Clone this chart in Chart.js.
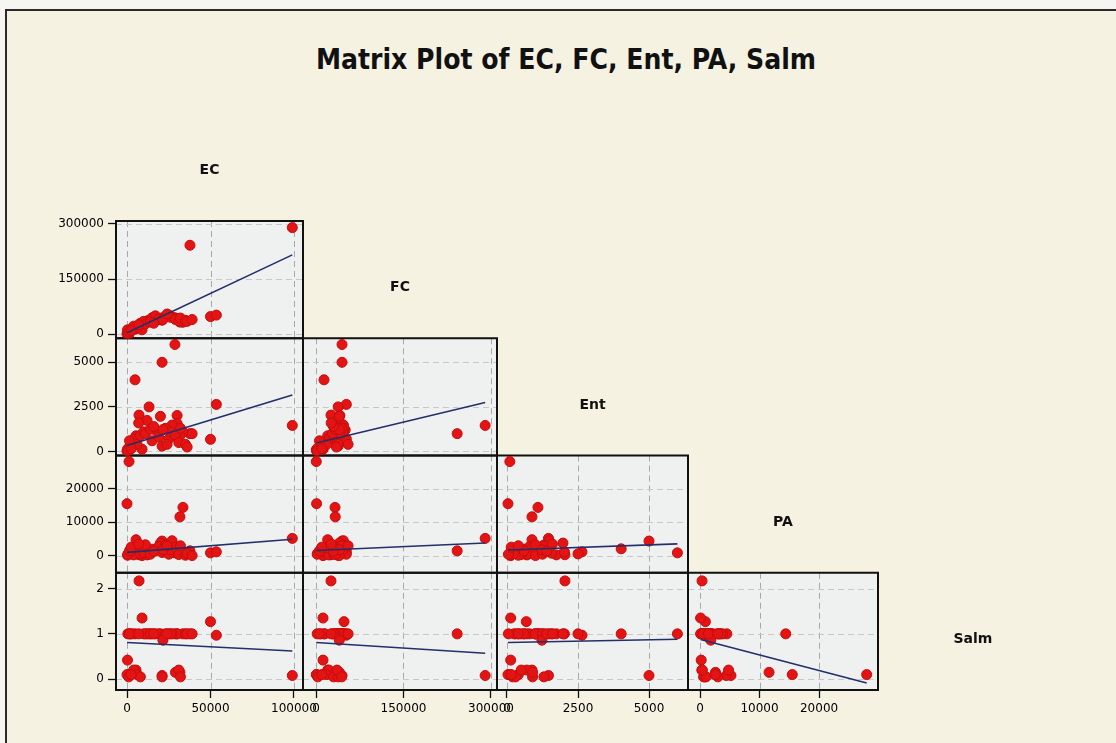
<!DOCTYPE html>
<html>
<head>
<meta charset="utf-8">
<title>Matrix Plot of EC, FC, Ent, PA, Salm</title>
<script src="https://cdn.jsdelivr.net/npm/chart.js@4.4.1/dist/chart.umd.min.js"></script>
<style>
  html, body { margin: 0; padding: 0; background: #f5f5f2; }
  #frame {
    position: absolute; left: 5px; top: 9px; width: 1111px; height: 734px;
    border-top: 2px solid #2a2a2a; border-left: 2px solid #2a2a2a; background: #f5f2e2;
  }
  #title {
    position: absolute; left: 8px; width: 1116px; top: 46px; text-align: center;
    font: bold 28px/28px 'Liberation Sans Narrow', 'DejaVu Sans Condensed', sans-serif; color: #111;
  }
  #wrap { position: absolute; left: 0; top: 0; width: 1116px; height: 743px; }
</style>
</head>
<body>
<div id="frame"></div>
<div id="title">Matrix Plot of EC, FC, Ent, PA, Salm</div>
<div id="wrap"><canvas id="matrix"></canvas></div>
<script>
// variables of the matrix, in diagonal order
const varNames = ['EC', 'FC', 'Ent', 'PA', 'Salm'];

// one value per sample
const EC   = [99000, 37700, 50000, 53500, 28700, 21000, 4800, 1200, 0, 33500,
              31700, 7200, 9000, 300, 13200, 12000, 30000, 30000, 5400, 27000,
              20000, 2000, 1000, 3000, 4000, 6000, 8000, 10000, 15000, 17000,
              19000, 21000, 23000, 25000, 26000, 29000, 31000, 32000, 35000, 36000,
              39000, 500, 1500, 2500, 11000, 14000, 21500, 16000, 7000, 24000];
const FC   = [290000, 242000, 48000, 52000, 44600, 44600, 13700, 500, 1000, 32600,
              33000, 25700, 12000, 12000, 38000, 36000, 41000, 43000, 20000, 47000,
              40000, 8000, 3000, 15000, 22000, 18000, 30000, 35000, 45000, 50000,
              42000, 38000, 48000, 52000, 46000, 40000, 36000, 44000, 38000, 35000,
              40000, 2000, 6000, 10000, 28000, 33000, 40000, 30000, 26000, 55000];
const Ent  = [1460, 1000, 680, 2640, 6000, 5000, 4020, 100, 35, 1090,
              880, 2040, 130, 130, 2500, 1740, 2020, 1570, 880, 1480,
              1970, 300, 200, 500, 700, 400, 900, 1100, 600, 1200,
              800, 300, 1300, 700, 1100, 900, 500, 1300, 400, 250,
              1000, 50, 600, 150, 1000, 1250, 1230, 1400, 1600, 400];
const PA   = [5200, 1500, 900, 1200, 900, 4400, 2100, 28000, 15500, 14400,
              11600, 340, 100, 200, 600, 300, 1200, 800, 4800, 4500,
              3800, 1800, 800, 1200, 300, 2500, 600, 900, 2000, 1500,
              2800, 1000, 3200, 500, 1800, 2600, 400, 3000, 200, 700,
              100, 500, 1500, 2600, 3300, 500, 1800, 1400, 3500, 3000];
const Salm = [0.08, 1.0, 1.27, 0.97, 1.0, 0.08, 1.0, 0.1, 0.1, 1.0,
              0.15, 2.17, 1.35, 0.42, 1.0, 1.0, 1.0, 1.0, 0.2, 1.0,
              1.0, 1.0, 0.05, 1.0, 0.2, 0.1, 0.05, 1.0, 1.0, 1.0,
              1.0, 0.05, 1.0, 1.0, 1.0, 0.15, 0.2, 0.05, 1.0, 1.0,
              1.0, 1.0, 1.0, 0.1, 1.0, 1.0, 0.86, 1.0, 1.0, 1.0];

// tick labels
const ecTicks   = [0, 50000, 100000];
const fcTicks   = [0, 150000, 300000];
const entTicks  = [0, 2500, 5000];
const paTicks   = [0, 10000, 20000];
const salmTicks = [0, 1, 2];

// fitted regression lines, one per panel (y variable, x variable)
const fitPanels    = [['FC', 'EC'], ['Ent', 'EC'], ['Ent', 'FC'], ['PA', 'EC'], ['PA', 'FC'],
                      ['PA', 'Ent'], ['Salm', 'EC'], ['Salm', 'FC'], ['Salm', 'Ent'], ['Salm', 'PA']];
const fitIntercept = [4000, 330, 472, 1050, 1600, 1760, 0.81, 0.81, 0.81, 0.88];
const fitSlope     = [2.14, 0.0287, 0.00783, 0.0395, 0.00776, 0.30, -0.0000019, -0.00000082, 0.000012, -0.0000344];

const series = { EC, FC, Ent, PA, Salm };
const tickFont = { family: "'DejaVu Sans', sans-serif", size: 12 };

// bottom axes, one per column (stacked side by side)
function xAxis(min, max, ticks, weight, order) {
  return {
    type: 'linear', position: 'bottom', stack: 'cols', stackWeight: weight, weight: order,
    min: min, max: max,
    afterBuildTicks: s => { s.ticks = ticks.map(v => ({ value: v })); },
    afterFit: s => { s.height = 30; },
    grid: { drawOnChartArea: false, drawTicks: true, tickLength: 8, tickColor: '#111', tickWidth: 1.3 },
    border: { display: false },
    ticks: { autoSkip: false, maxRotation: 0, minRotation: 0, padding: 4, color: '#000',
             font: tickFont, callback: v => String(v) }
  };
}

// left axes, one per row (stacked top to bottom)
function yAxis(min, max, ticks, order) {
  return {
    type: 'linear', position: 'left', stack: 'rows', stackWeight: 1, weight: order,
    min: min, max: max,
    afterBuildTicks: s => { s.ticks = ticks.map(v => ({ value: v })); },
    afterFit: s => { s.width = 60; },
    grid: { drawOnChartArea: false, drawTicks: true, tickLength: 8, tickColor: '#111', tickWidth: 1.3 },
    border: { display: false },
    ticks: { autoSkip: false, padding: 4, color: '#000', font: tickFont, callback: v => String(v) }
  };
}

const scales = {
  xEC:   xAxis(-6600, 105400, ecTicks, 187, 1),
  xFC:   xAxis(-22300, 310300, fcTicks, 194, 2),
  xEnt:  xAxis(-352, 6373, entTicks, 191, 3),
  xPA:   xAxis(-2017, 29900, paTicks, 190, 4),
  yFC:   yAxis(-10900, 308000, fcTicks, 4),
  yEnt:  yAxis(-225, 6350, entTicks, 3),
  yPA:   yAxis(-5000, 29800, paTicks, 2),
  ySalm: yAxis(-0.24, 2.35, salmTicks, 1)
};

// lower triangle panels
const panels = [];
for (let r = 1; r < varNames.length; r++) {
  for (let c = 0; c < r; c++) {
    panels.push({ yv: varNames[r], xv: varNames[c], x: 'x' + varNames[c], y: 'y' + varNames[r] });
  }
}

const datasets = [];
panels.forEach(p => {
  const xs = series[p.xv], ys = series[p.yv];
  datasets.push({
    type: 'scatter',
    data: xs.map((v, i) => ({ x: v, y: ys[i] })),
    xAxisID: p.x, yAxisID: p.y,
    pointRadius: 5, pointBackgroundColor: '#e31414', pointBorderColor: '#c80c0c', pointBorderWidth: 1,
    order: 2
  });
  const k = fitPanels.findIndex(f => f[0] === p.yv && f[1] === p.xv);
  const lo = Math.min(...xs), hi = Math.max(...xs);
  datasets.push({
    type: 'scatter', showLine: true,
    data: [{ x: lo, y: fitIntercept[k] + fitSlope[k] * lo }, { x: hi, y: fitIntercept[k] + fitSlope[k] * hi }],
    xAxisID: p.x, yAxisID: p.y,
    borderColor: '#22306a', borderWidth: 1.6, pointRadius: 0,
    order: 1
  });
});

// panel backgrounds, dashed reference grid, frames and diagonal variable names
const panelPlugin = {
  id: 'panels',
  beforeDatasetsDraw(chart) {
    const ctx = chart.ctx;
    ctx.save();
    panels.forEach(p => {
      const xs = chart.scales[p.x], ys = chart.scales[p.y];
      const l = xs.left, r = xs.right, t = ys.top, b = ys.bottom;
      ctx.fillStyle = '#eff0f0';
      ctx.fillRect(l, t, r - l, b - t);
      ctx.lineWidth = 1;
      ctx.setLineDash([6, 4]);
      ctx.strokeStyle = '#a8a8a8';
      xs.ticks.forEach(tk => {
        const px = Math.round(xs.getPixelForValue(tk.value)) + 0.5;
        ctx.beginPath(); ctx.moveTo(px, t); ctx.lineTo(px, b); ctx.stroke();
      });
      ctx.strokeStyle = '#c8c8c8';
      ys.ticks.forEach(tk => {
        const py = Math.round(ys.getPixelForValue(tk.value)) + 0.5;
        ctx.beginPath(); ctx.moveTo(l, py); ctx.lineTo(r, py); ctx.stroke();
      });
      ctx.setLineDash([]);
    });
    ctx.strokeStyle = '#111';
    ctx.lineWidth = 2;
    panels.forEach(p => {
      const xs = chart.scales[p.x], ys = chart.scales[p.y];
      ctx.strokeRect(xs.left, ys.top, xs.right - xs.left, ys.bottom - ys.top);
    });

    ctx.fillStyle = '#111';
    ctx.font = "bold 14px 'DejaVu Sans', sans-serif";
    ctx.textAlign = 'center';
    ctx.textBaseline = 'middle';
    const xPA = chart.scales.xPA, yFC = chart.scales.yFC;
    varNames.forEach((name, i) => {
      let cx, cy;
      if (i < 4) {
        const xs = chart.scales['x' + varNames[i]];
        cx = (xs.left + xs.right) / 2;
      } else {
        cx = xPA.right + (xPA.right - xPA.left) / 2;
      }
      if (i === 0) {
        cy = yFC.top - (yFC.bottom - yFC.top) / 2;
      } else {
        const ys = chart.scales['y' + name];
        cy = (ys.top + ys.bottom) / 2;
      }
      ctx.fillText(name, cx, cy + 8);
    });
    ctx.restore();
  }
};

new Chart(document.getElementById('matrix').getContext('2d'), {
  type: 'scatter',
  data: { datasets: datasets },
  options: {
    responsive: true,
    maintainAspectRatio: false,
    animation: false,
    events: [],
    layout: { padding: { top: 221, left: 56, right: 238, bottom: 23 } },
    plugins: { legend: { display: false }, tooltip: { enabled: false }, title: { display: false } },
    scales: scales
  },
  plugins: [panelPlugin]
});
</script>
</body>
</html>
